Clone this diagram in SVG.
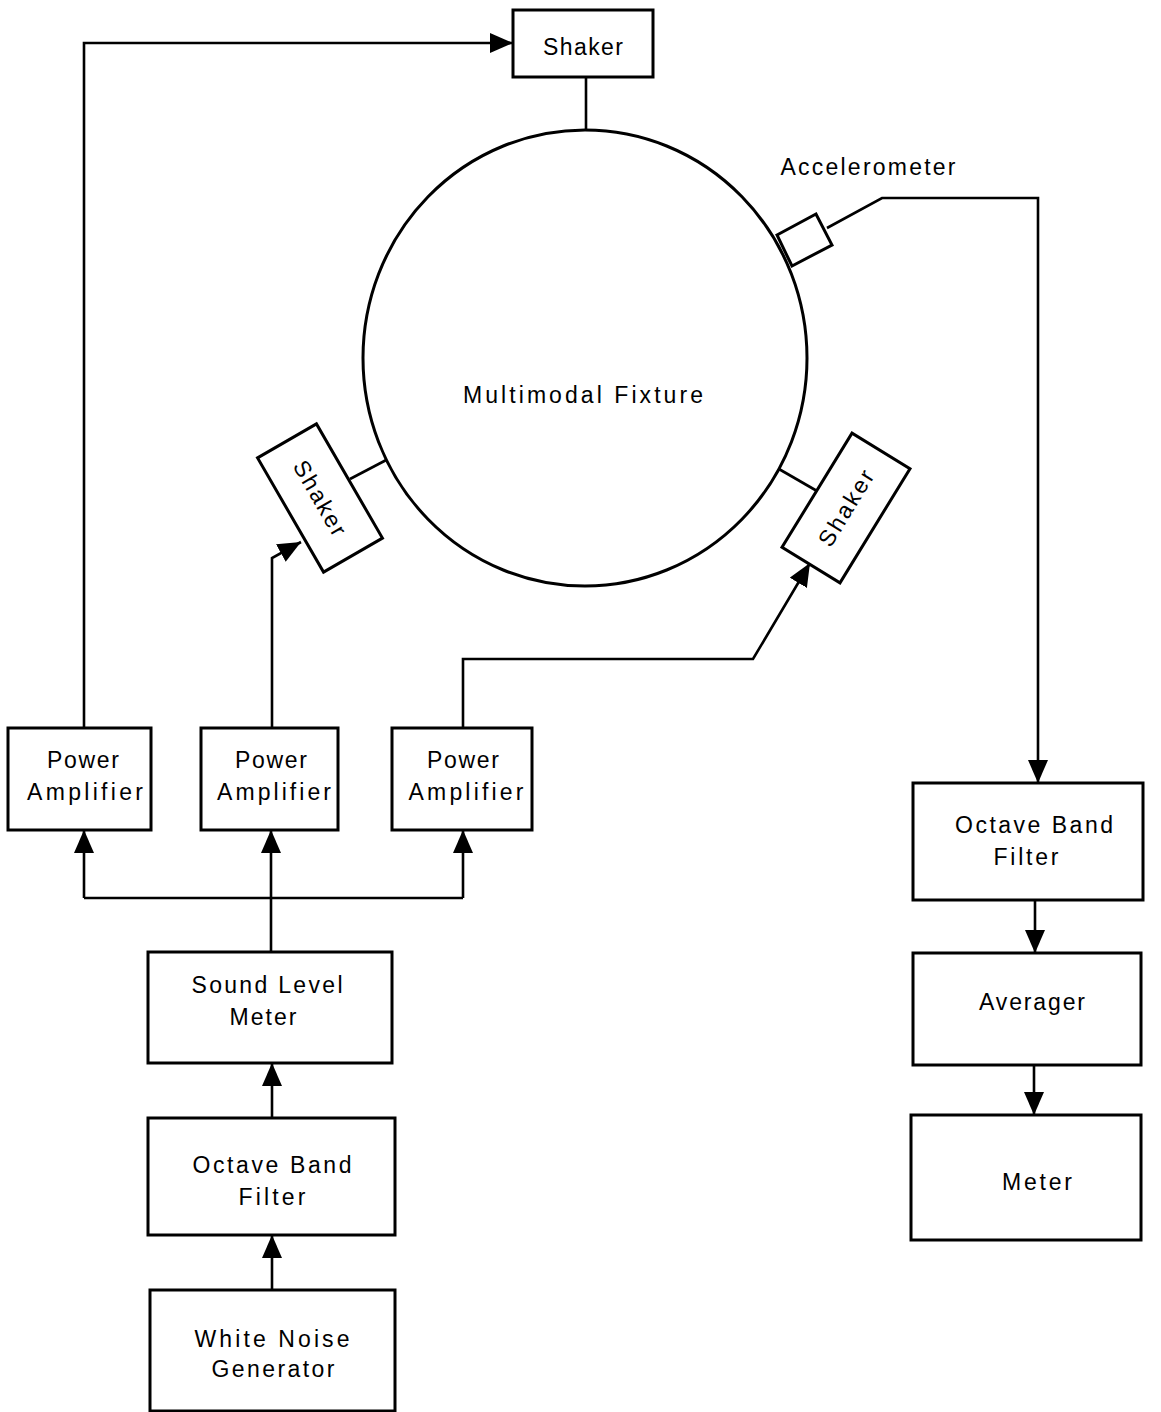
<svg xmlns="http://www.w3.org/2000/svg" width="1161" height="1412" viewBox="0 0 1161 1412">
<defs>
<marker id="arr" markerUnits="userSpaceOnUse" markerWidth="26" markerHeight="22" refX="23" refY="10" orient="auto"><path d="M0,0 L23,10 L0,20 z" fill="#000"/></marker>
<style>
.box{fill:#fff;stroke:#000;stroke-width:3}
.ln{fill:none;stroke:#000;stroke-width:2.6}
text{font-family:"Liberation Sans","Arial",sans-serif;font-size:23px;fill:#000;text-anchor:middle}
</style>
</defs>
<rect width="1161" height="1412" fill="#fff"/>
<g id="connectors">
<path class="ln" d="M84,728 V43 H513" marker-end="url(#arr)"/>
<path class="ln" d="M586,77 V130"/>
<path class="ln" d="M392,457 L350,479"/>
<path class="ln" d="M772,465 L817,491"/>
<path class="ln" d="M272,728 V558 L301,542" marker-end="url(#arr)"/>
<path class="ln" d="M463,728 V659 H753 L810,563" marker-end="url(#arr)"/>
<path class="ln" d="M827,228 L882,198 H1038 V783" marker-end="url(#arr)"/>
<path class="ln" d="M84,898 H463"/>
<path class="ln" d="M84,898 V830" marker-end="url(#arr)"/>
<path class="ln" d="M463,898 V830" marker-end="url(#arr)"/>
<path class="ln" d="M271,952 V830" marker-end="url(#arr)"/>
<path class="ln" d="M272,1118 V1063" marker-end="url(#arr)"/>
<path class="ln" d="M272,1290 V1235" marker-end="url(#arr)"/>
<path class="ln" d="M1035,900 V953" marker-end="url(#arr)"/>
<path class="ln" d="M1034,1065 V1115" marker-end="url(#arr)"/>
</g>
<g id="fixture">
<ellipse class="box" cx="585" cy="358" rx="222" ry="228"/>
<text x="583" y="403" textLength="240" lengthAdjust="spacing">Multimodal Fixture</text>
</g>
<g id="shaker-top">
<rect class="box" x="513" y="10" width="140" height="67"/>
<text x="583" y="55" textLength="80" lengthAdjust="spacing">Shaker</text>
</g>
<g id="accelerometer">
<polygon class="box" points="777,235 816,214 832,245 792,266"/>
<text x="868" y="175" textLength="175" lengthAdjust="spacing">Accelerometer</text>
</g>
<g id="shaker-left" transform="translate(320,498) rotate(60)">
<rect class="box" x="-66" y="-34" width="132" height="68"/>
<text x="0" y="8" textLength="83" lengthAdjust="spacing">Shaker</text>
</g>
<g id="shaker-right" transform="translate(846,508) rotate(-58.5)">
<rect class="box" x="-67" y="-34" width="134" height="68"/>
<text x="0" y="8" textLength="85" lengthAdjust="spacing">Shaker</text>
</g>
<g id="amp1">
<rect class="box" x="8" y="728" width="143" height="102"/>
<text x="83" y="768" textLength="72" lengthAdjust="spacing">Power</text>
<text x="85" y="800" textLength="116" lengthAdjust="spacing">Amplifier</text>
</g>
<g id="amp2">
<rect class="box" x="201" y="728" width="137" height="102"/>
<text x="271" y="768" textLength="72" lengthAdjust="spacing">Power</text>
<text x="274" y="800" textLength="114" lengthAdjust="spacing">Amplifier</text>
</g>
<g id="amp3">
<rect class="box" x="392" y="728" width="140" height="102"/>
<text x="463" y="768" textLength="72" lengthAdjust="spacing">Power</text>
<text x="466" y="800" textLength="115" lengthAdjust="spacing">Amplifier</text>
</g>
<g id="sound-level-meter">
<rect class="box" x="148" y="952" width="244" height="111"/>
<text x="267" y="993" textLength="151" lengthAdjust="spacing">Sound Level</text>
<text x="263" y="1025" textLength="67" lengthAdjust="spacing">Meter</text>
</g>
<g id="octave-left">
<rect class="box" x="148" y="1118" width="247" height="117"/>
<text x="272" y="1173" textLength="159" lengthAdjust="spacing">Octave Band</text>
<text x="272" y="1205" textLength="67" lengthAdjust="spacing">Filter</text>
</g>
<g id="white-noise">
<rect class="box" x="150" y="1290" width="245" height="121"/>
<text x="272" y="1347" textLength="155" lengthAdjust="spacing">White Noise</text>
<text x="273" y="1377" textLength="123" lengthAdjust="spacing">Generator</text>
</g>
<g id="octave-right">
<rect class="box" x="913" y="783" width="230" height="117"/>
<text x="1034" y="833" textLength="158" lengthAdjust="spacing">Octave Band</text>
<text x="1026" y="865" textLength="65" lengthAdjust="spacing">Filter</text>
</g>
<g id="averager">
<rect class="box" x="913" y="953" width="228" height="112"/>
<text x="1032" y="1010" textLength="106" lengthAdjust="spacing">Averager</text>
</g>
<g id="meter">
<rect class="box" x="911" y="1115" width="230" height="125"/>
<text x="1037" y="1190" textLength="70" lengthAdjust="spacing">Meter</text>
</g>
</svg>
